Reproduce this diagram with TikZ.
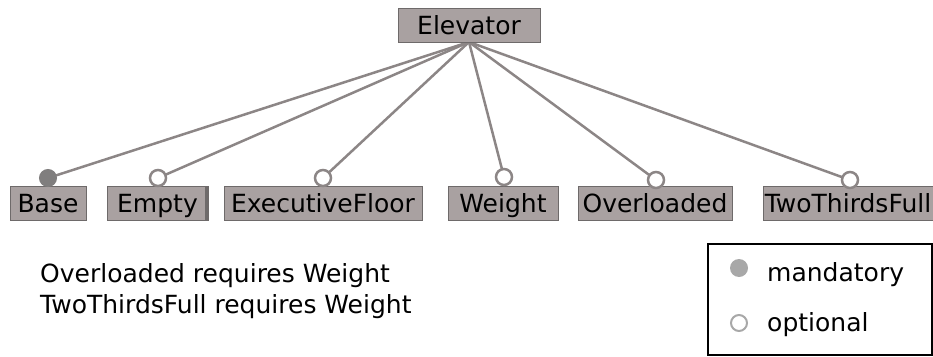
\documentclass[tikz,border=0pt]{standalone}
\usepackage{fontspec}
\setmainfont{DejaVu Sans}
\usetikzlibrary{backgrounds}
\definecolor{boxfill}{RGB}{169,161,161}
\definecolor{boxline}{RGB}{110,106,106}
\definecolor{edgecol}{RGB}{140,134,134}
\definecolor{mandfill}{RGB}{128,126,126}
\definecolor{legcol}{RGB}{168,168,168}
\begin{document}
\begin{tikzpicture}[x=1pt,y=-1pt,
  feat/.style={draw=boxline, fill=boxfill, line width=0.8pt, minimum height=34pt, inner sep=0pt, text height=18pt, text depth=0pt, font=\fontsize{25}{30}\selectfont},
  edge/.style={draw=edgecol, line width=2.5pt},
  mand/.style={circle, draw=mandfill, fill=mandfill, line width=2pt, minimum size=16pt, inner sep=0pt},
  opt/.style={circle, draw=edgecol, fill=white, line width=2.5pt, minimum size=16pt, inner sep=0pt},
  lbl/.style={font=\fontsize{25}{30}\selectfont, inner sep=0pt, anchor=base west}]
\useasboundingbox (0,0) rectangle (933,356);
\node[feat, minimum width=142pt] (elev) at (469,25) {Elevator};
\node[feat, minimum width=76pt] (base) at (48,203.5) {Base};
\node[feat, minimum width=101pt] (empty) at (157.5,203.5) {Empty};
\draw[boxline, line width=3pt] ([xshift=-2pt]empty.north east) -- ([xshift=-2pt]empty.south east);
\node[feat, minimum width=198pt] (exec) at (323,203.5) {ExecutiveFloor};
\node[feat, minimum width=110pt] (weight) at (503,203.5) {Weight};
\node[feat, minimum width=154pt] (over) at (655,203.5) {Overloaded};
\node[feat, minimum width=170pt] (two) at (848,203.5) {TwoThirdsFull};
\coordinate (top) at (469,42);
\node[mand] (cbase) at (48,178) {};
\node[opt] (cempty) at (158,178) {};
\node[opt] (cexec) at (323,178) {};
\node[opt] (cweight) at (504,177) {};
\node[opt] (cover) at (656,180) {};
\node[opt] (ctwo) at (850,180) {};
\begin{scope}[on background layer]
\foreach \c in {cbase,cempty,cexec,cweight,cover,ctwo}{
  \draw[edge] (top) -- (\c.center);
}
\end{scope}
\node[lbl] (c1) at (40,282) {Overloaded requires Weight};
\node[lbl] (c2) at (40,313) {TwoThirdsFull requires Weight};
\node[draw=black, line width=2.5pt, minimum width=224pt, minimum height=111pt, inner sep=0pt] (legend) at (820,299.5) {};
\node[circle, fill=legcol, minimum size=18pt, inner sep=0pt] (lm) at (739,268) {};
\node[lbl] (lmt) at (767,281) {mandatory};
\node[circle, draw=legcol, fill=white, line width=2pt, minimum size=16pt, inner sep=0pt] (lo) at (739,323) {};
\node[lbl] (lot) at (767,331) {optional};
\end{tikzpicture}
\end{document}
